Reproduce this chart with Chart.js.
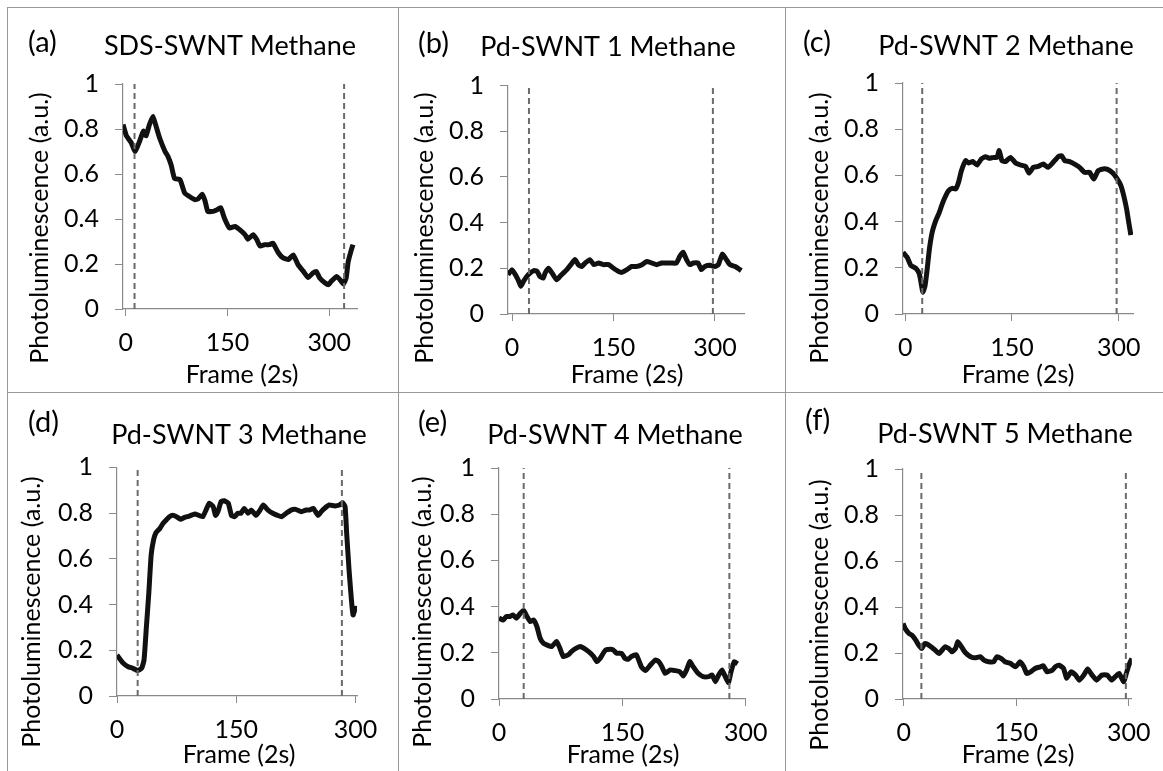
<!DOCTYPE html>
<html>
<head>
<meta charset="utf-8">
<script src="https://cdn.jsdelivr.net/npm/chart.js@4.4.1/dist/chart.umd.min.js"></script>
<style>
  body { margin: 0; background: #fff; }
  #wrap { position: relative; width: 1163px; height: 771px; overflow: hidden; background: #fff; }
  canvas { position: absolute; }
  .rule { position: absolute; background: #999; z-index: 2; }
</style>
</head>
<body>
<div id="wrap">
  <canvas id="pa" width="391" height="385" style="left:7px;top:7px"></canvas>
  <canvas id="pb" width="387" height="385" style="left:398px;top:7px"></canvas>
  <canvas id="pc" width="378" height="385" style="left:785px;top:7px"></canvas>
  <canvas id="pd" width="391" height="379" style="left:7px;top:392px"></canvas>
  <canvas id="pe" width="387" height="379" style="left:398px;top:392px"></canvas>
  <canvas id="pf" width="378" height="379" style="left:785px;top:392px"></canvas>

  <div class="rule" style="left:7px;top:7px;width:1156px;height:1px"></div>
  <div class="rule" style="left:7px;top:392px;width:1156px;height:1px"></div>
  <div class="rule" style="left:7px;top:7px;width:1px;height:764px"></div>
  <div class="rule" style="left:398px;top:7px;width:1px;height:764px"></div>
  <div class="rule" style="left:785px;top:7px;width:1px;height:764px"></div>
</div>
<script>
// 刻度
const xTicks = [0, 150, 300];
const yTicks = [0, 0.2, 0.4, 0.6, 0.8, 1];

// (a) SDS-SWNT
const framesA = [-4, 1, 8, 14, 21, 26, 30, 35, 40, 45, 50, 58, 62, 67, 72, 80, 87, 94, 102, 107, 113, 117, 121, 129, 134, 140, 146, 153, 161, 168, 176, 180, 188, 193, 198, 205, 212, 217, 225, 232, 240, 247, 254, 262, 269, 276, 281, 286, 294, 299, 303, 311, 316, 321, 325, 328, 332, 335];
const plA = [0.82, 0.77, 0.74, 0.70, 0.75, 0.79, 0.77, 0.82, 0.856, 0.81, 0.76, 0.70, 0.68, 0.64, 0.58, 0.575, 0.515, 0.50, 0.486, 0.49, 0.51, 0.48, 0.434, 0.434, 0.44, 0.45, 0.40, 0.36, 0.367, 0.353, 0.33, 0.31, 0.33, 0.31, 0.28, 0.286, 0.286, 0.293, 0.25, 0.227, 0.22, 0.24, 0.197, 0.167, 0.14, 0.16, 0.167, 0.138, 0.116, 0.108, 0.123, 0.145, 0.13, 0.11, 0.138, 0.21, 0.256, 0.286];
const dashA = [13, 322];

// (b) Pd-SWNT 1
const framesB = [-6, 0, 5, 10, 13, 17, 22, 27, 32, 37, 41, 46, 49, 54, 59, 66, 71, 76, 81, 87, 93, 98, 103, 108, 115, 121, 128, 135, 143, 150, 157, 162, 170, 177, 184, 192, 199, 207, 214, 221, 229, 236, 243, 248, 253, 258, 263, 268, 275, 280, 285, 293, 300, 305, 311, 317, 322, 330, 337, 339];
const plB = [0.172, 0.194, 0.172, 0.143, 0.121, 0.143, 0.165, 0.18, 0.19, 0.187, 0.165, 0.157, 0.18, 0.20, 0.18, 0.15, 0.165, 0.18, 0.194, 0.216, 0.238, 0.216, 0.208, 0.223, 0.238, 0.216, 0.223, 0.216, 0.216, 0.20, 0.187, 0.182, 0.194, 0.208, 0.208, 0.216, 0.23, 0.223, 0.216, 0.223, 0.223, 0.223, 0.223, 0.252, 0.27, 0.238, 0.216, 0.223, 0.223, 0.194, 0.208, 0.213, 0.208, 0.216, 0.262, 0.238, 0.216, 0.208, 0.194, 0.19];
const dashB = [25, 297];

// (c) Pd-SWNT 2
const framesC = [-3, 3, 8, 15, 20, 23, 25, 28, 31, 34, 38, 43, 48, 52, 57, 61, 66, 71, 75, 79, 85, 89, 95, 101, 107, 113, 118, 124, 129, 132, 136, 141, 148, 155, 162, 169, 174, 180, 187, 194, 201, 208, 215, 220, 224, 231, 238, 245, 252, 259, 265, 271, 278, 285, 292, 298, 303, 307, 311, 314, 317];
const plC = [0.267, 0.245, 0.21, 0.198, 0.173, 0.123, 0.094, 0.123, 0.195, 0.28, 0.354, 0.404, 0.44, 0.476, 0.512, 0.534, 0.544, 0.541, 0.57, 0.62, 0.664, 0.654, 0.66, 0.645, 0.671, 0.681, 0.674, 0.678, 0.678, 0.707, 0.664, 0.66, 0.678, 0.654, 0.645, 0.639, 0.61, 0.635, 0.639, 0.649, 0.635, 0.657, 0.681, 0.685, 0.664, 0.66, 0.649, 0.635, 0.613, 0.613, 0.584, 0.62, 0.628, 0.625, 0.609, 0.584, 0.556, 0.512, 0.455, 0.397, 0.342];
const dashC = [24, 297];

// (d) Pd-SWNT 3
const framesD = [0, 3, 8, 14, 20, 26, 31, 34, 37, 40, 43, 46, 49, 54, 58, 62, 66, 70, 75, 80, 85, 91, 98, 103, 108, 112, 116, 121, 124, 127, 131, 135, 140, 144, 148, 152, 156, 160, 165, 169, 175, 180, 184, 190, 196, 202, 207, 213, 219, 225, 232, 238, 242, 247, 253, 257, 261, 267, 274, 280, 284, 287, 289, 292, 295, 297, 300, 302];
const plD = [0.179, 0.165, 0.143, 0.128, 0.121, 0.111, 0.121, 0.157, 0.303, 0.449, 0.617, 0.682, 0.714, 0.733, 0.755, 0.77, 0.784, 0.79, 0.784, 0.773, 0.781, 0.787, 0.796, 0.79, 0.784, 0.813, 0.843, 0.828, 0.79, 0.806, 0.85, 0.854, 0.843, 0.79, 0.784, 0.799, 0.799, 0.82, 0.799, 0.813, 0.79, 0.813, 0.835, 0.813, 0.799, 0.79, 0.784, 0.799, 0.813, 0.816, 0.806, 0.813, 0.813, 0.82, 0.79, 0.806, 0.82, 0.835, 0.831, 0.835, 0.845, 0.828, 0.711, 0.551, 0.42, 0.354, 0.383, 0.383];
const dashD = [26, 283];

// (e) Pd-SWNT 4
const framesE = [0, 5, 9, 13, 17, 21, 26, 30, 34, 38, 42, 46, 50, 54, 58, 64, 70, 74, 78, 84, 88, 94, 99, 103, 109, 115, 119, 123, 129, 135, 139, 143, 149, 153, 157, 161, 167, 173, 178, 184, 190, 194, 198, 202, 208, 214, 220, 224, 228, 232, 236, 242, 248, 255, 259, 263, 267, 271, 275, 279, 282, 286, 290];
const plE = [0.35, 0.342, 0.357, 0.357, 0.364, 0.35, 0.371, 0.383, 0.357, 0.335, 0.342, 0.314, 0.263, 0.241, 0.234, 0.227, 0.249, 0.22, 0.184, 0.191, 0.205, 0.22, 0.227, 0.22, 0.205, 0.184, 0.162, 0.176, 0.21, 0.215, 0.212, 0.198, 0.198, 0.176, 0.172, 0.184, 0.191, 0.14, 0.123, 0.147, 0.169, 0.162, 0.14, 0.111, 0.126, 0.123, 0.118, 0.10, 0.126, 0.162, 0.14, 0.111, 0.097, 0.097, 0.104, 0.075, 0.104, 0.126, 0.097, 0.071, 0.118, 0.162, 0.152];
const dashE = [30, 280];

// (f) Pd-SWNT 5
const framesF = [-1, 2, 7, 11, 16, 20, 24, 28, 32, 38, 42, 47, 51, 55, 60, 64, 69, 72, 77, 82, 89, 95, 102, 107, 113, 120, 124, 130, 135, 142, 149, 155, 160, 164, 169, 175, 182, 186, 191, 198, 202, 207, 213, 217, 223, 229, 234, 240, 245, 251, 257, 264, 271, 277, 282, 287, 293, 296, 300, 304];
const plF = [0.328, 0.306, 0.285, 0.277, 0.256, 0.234, 0.22, 0.241, 0.237, 0.223, 0.212, 0.198, 0.212, 0.227, 0.22, 0.205, 0.22, 0.249, 0.227, 0.202, 0.184, 0.179, 0.184, 0.169, 0.162, 0.162, 0.184, 0.176, 0.162, 0.155, 0.14, 0.162, 0.14, 0.111, 0.118, 0.133, 0.14, 0.145, 0.118, 0.126, 0.14, 0.147, 0.133, 0.09, 0.118, 0.104, 0.082, 0.104, 0.13, 0.104, 0.082, 0.104, 0.104, 0.082, 0.097, 0.111, 0.075, 0.104, 0.147, 0.176];
const dashF = [23.5, 296];

const FONT = 'Lato, "Open Sans", sans-serif';
const AXIS_GRAY = '#8a8a8a';

// 面板文字（字母、标题、坐标轴标题）
const panelText = {
    id: 'panelText',
    afterDraw(chart, args, o) {
        const ctx = chart.ctx;
        ctx.save();
        ctx.fillStyle = '#000';
        ctx.textBaseline = 'alphabetic';
        ctx.textAlign = 'left';
        ctx.font = '29px ' + FONT;
        ctx.fillText(o.letter, o.lx, o.ly);
        ctx.textAlign = 'center';
        ctx.font = '27px ' + FONT;
        ctx.fillText(o.title, o.tx, o.ty);
        ctx.font = '25px ' + FONT;
        ctx.fillText('Frame (2s)', o.xx, o.xy);
        ctx.translate(o.yx, o.yy);
        ctx.rotate(-Math.PI / 2);
        ctx.textBaseline = 'middle';
        ctx.fillText('Photoluminescence (a.u.)', 0, 0);
        ctx.restore();
    }
};

function makePanel(id, frames, values, dashes, box, xRange, text) {
    const canvas = document.getElementById(id);
    const W = canvas.width, H = canvas.height;
    const dashSets = dashes.map(d => ({
        data: [{ x: d, y: 0 }, { x: d, y: 1 }],
        borderColor: '#6a6a6a',
        borderWidth: 2,
        borderDash: [6, 4],
        pointRadius: 0,
        order: 0
    }));
    new Chart(canvas, {
        type: 'line',
        data: {
            datasets: [{
                data: frames.map((f, i) => ({ x: f, y: values[i] })),
                borderColor: '#111',
                borderWidth: 5,
                pointRadius: 0,
                tension: 0.15,
                order: 1
            }].concat(dashSets)
        },
        options: {
            responsive: false,
            animation: false,
            layout: { padding: { left: 0, top: box.top, right: W - box.right, bottom: 0 } },
            plugins: {
                legend: { display: false },
                tooltip: { enabled: false },
                panelText: text
            },
            scales: {
                x: {
                    type: 'linear',
                    min: xRange[0],
                    max: xRange[1],
                    afterFit: s => { s.height = H - box.bottom; },
                    afterBuildTicks: s => { s.ticks = xTicks.map(v => ({ value: v })); },
                    ticks: {
                        font: { family: FONT, size: 25 },
                        color: '#000',
                        padding: 12,
                        maxRotation: 0,
                        autoSkip: false
                    },
                    grid: { drawOnChartArea: false, tickLength: 7, color: AXIS_GRAY },
                    border: { color: AXIS_GRAY, width: 1.2 }
                },
                y: {
                    min: 0,
                    max: 1,
                    afterFit: s => { s.width = box.left; },
                    afterBuildTicks: s => { s.ticks = yTicks.map(v => ({ value: v })); },
                    ticks: {
                        font: { family: FONT, size: 25 },
                        color: '#000',
                        padding: 16,
                        callback: v => String(+v.toFixed(1))
                    },
                    grid: { drawOnChartArea: false, tickLength: 8, color: AXIS_GRAY },
                    border: { color: AXIS_GRAY, width: 1.2 }
                }
            }
        },
        plugins: [panelText]
    });
}

makePanel('pa', framesA, plA, dashA, { left: 116, top: 77, right: 350, bottom: 302 }, [-4, 341],
    { letter: '(a)', lx: 21, ly: 45, title: 'SDS-SWNT Methane', tx: 223, ty: 48, xx: 235, xy: 376, yx: 33, yy: 221 });
makePanel('pb', framesB, plB, dashB, { left: 110, top: 78.5, right: 346, bottom: 307 }, [-6, 343],
    { letter: '(b)', lx: 20, ly: 46, title: 'Pd-SWNT 1 Methane', tx: 210, ty: 49, xx: 229, xy: 376, yx: 27, yy: 221 });
makePanel('pc', framesC, plC, dashC, { left: 118, top: 76, right: 348, bottom: 307 }, [-3, 320],
    { letter: '(c)', lx: 18, ly: 45, title: 'Pd-SWNT 2 Methane', tx: 221, ty: 48, xx: 233, xy: 376, yx: 35, yy: 221 });
makePanel('pd', framesD, plD, dashD, { left: 110, top: 75.3, right: 350, bottom: 304 }, [0, 302],
    { letter: '(d)', lx: 21, ly: 40, title: 'Pd-SWNT 3 Methane', tx: 232, ty: 52, xx: 232, xy: 371, yx: 25, yy: 220 });
makePanel('pe', framesE, plE, dashE, { left: 101, top: 76, right: 347, bottom: 307 }, [0, 299],
    { letter: '(e)', lx: 20, ly: 40, title: 'Pd-SWNT 4 Methane', tx: 217, ty: 52, xx: 225, xy: 371, yx: 25, yy: 220 });
makePanel('pf', framesF, plF, dashF, { left: 118, top: 77, right: 348, bottom: 307 }, [-1, 304],
    { letter: '(f)', lx: 20, ly: 38, title: 'Pd-SWNT 5 Methane', tx: 220, ty: 51, xx: 233, xy: 371, yx: 35, yy: 223 });
</script>
</body>
</html>
